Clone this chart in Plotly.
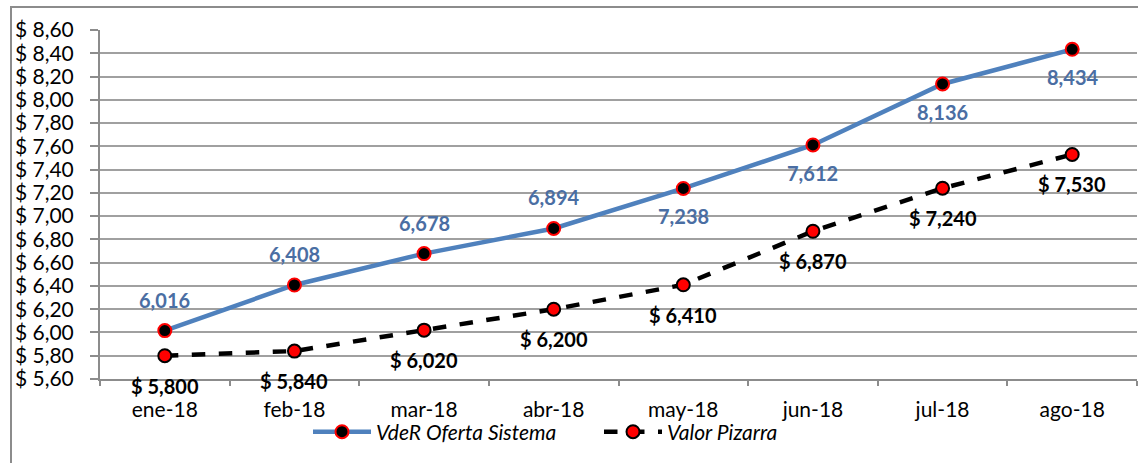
import plotly.graph_objects as go

months = ["ene-18", "feb-18", "mar-18", "abr-18", "may-18", "jun-18", "jul-18", "ago-18"]
vder = [6.016, 6.408, 6.678, 6.894, 7.238, 7.612, 8.136, 8.434]
pizarra = [5.800, 5.840, 6.020, 6.200, 6.410, 6.870, 7.240, 7.530]
vder_labels = ["6,016", "6,408", "6,678", "6,894", "7,238", "7,612", "8,136", "8,434"]
pizarra_labels = ["$ 5,800", "$ 5,840", "$ 6,020", "$ 6,200", "$ 6,410", "$ 6,870", "$ 7,240", "$ 7,530"]
vder_label_side = ["above", "above", "above", "above", "below", "below", "below", "below"]
ytick_vals = [5.6, 5.8, 6.0, 6.2, 6.4, 6.6, 6.8, 7.0, 7.2, 7.4, 7.6, 7.8, 8.0, 8.2, 8.4, 8.6]
ytick_text = ["$ 5,60", "$ 5,80", "$ 6,00", "$ 6,20", "$ 6,40", "$ 6,60", "$ 6,80", "$ 7,00",
              "$ 7,20", "$ 7,40", "$ 7,60", "$ 7,80", "$ 8,00", "$ 8,20", "$ 8,40", "$ 8,60"]

FONT = "Lato"
BLUE = "#4F81BD"
BLUE_TXT = "#4A6EA3"

fig = go.Figure()
fig.add_trace(go.Scatter(
    x=months, y=vder, name="VdeR Oferta Sistema", mode="lines+markers",
    line=dict(color=BLUE, width=4.5),
    marker=dict(size=13, color="black", line=dict(color="red", width=2)),
))
fig.add_trace(go.Scatter(
    x=months, y=pizarra, name="Valor Pizarra", mode="lines+markers",
    line=dict(color="black", width=4.5, dash="dash"),
    marker=dict(size=13, color="red", line=dict(color="black", width=2)),
))

annotations = []
for m, v, t, s in zip(months, vder, vder_labels, vder_label_side):
    annotations.append(dict(x=m, y=v, text=f"<b>{t}</b>", showarrow=False,
                            yshift=31 if s == "above" else -28,
                            font=dict(family=FONT, size=20, color=BLUE_TXT)))
for m, v, t in zip(months, pizarra, pizarra_labels):
    annotations.append(dict(x=m, y=v, text=f"<b>{t}</b>", showarrow=False,
                            yshift=-30,
                            font=dict(family=FONT, size=20, color="black")))

fig.update_layout(
    width=1138, height=463,
    margin=dict(l=100, r=1, t=30, b=84),
    paper_bgcolor="white", plot_bgcolor="white",
    font=dict(family=FONT, size=21, color="black"),
    showlegend=True,
    legend=dict(orientation="h", x=(308 - 100) / 1037, xanchor="left", y=-0.152, yanchor="middle",
                font=dict(family=FONT, size=21, style="italic"),
                itemwidth=58, entrywidth=218, bgcolor="rgba(0,0,0,0)"),
    annotations=annotations,
    shapes=[dict(type="rect", xref="paper", yref="paper",
                 x0=(11 - 100) / 1037, x1=(1145 - 100) / 1037,
                 y0=(379 - 475) / 349, y1=(379 - 7) / 349,
                 line=dict(color="#8C8C8C", width=2), layer="below")],
)
fig.update_xaxes(
    type="category", showgrid=False, showline=True, linecolor="#8C8C8C", linewidth=2,
    ticks="outside", tickson="boundaries", ticklen=5, tickcolor="#8C8C8C", tickwidth=2,
    tickfont=dict(family=FONT, size=21), range=[-0.5, 7.5], ticklabelstandoff=11,
)
fig.update_yaxes(
    range=[5.6, 8.6], tickvals=ytick_vals, ticktext=ytick_text,
    showgrid=True, gridcolor="#A0A0A0", gridwidth=2,
    showline=True, linecolor="#8C8C8C", linewidth=2,
    ticks="outside", ticklen=8, tickcolor="#8C8C8C", tickwidth=2,
    tickfont=dict(family=FONT, size=21), ticklabelstandoff=12, zeroline=False,
)

fig.write_html("out.html", config={"displayModeBar": False},
               post_script="document.body.style.margin='0';document.body.style.overflow='hidden';")
